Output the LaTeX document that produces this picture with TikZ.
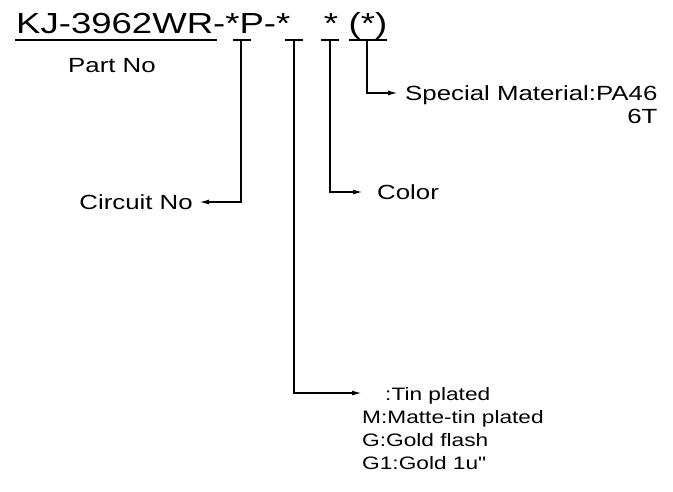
\documentclass[tikz,border=0pt]{standalone}
\usepackage{fontspec}
\setmainfont[FakeStretch=1.26]{Liberation Sans}
\newfontfamily\plainquote[FakeStretch=1.26]{Liberation Sans}
\usetikzlibrary{arrows.meta}
\begin{document}
\begin{tikzpicture}[x=1pt,y=-1pt,
  ln/.style={line width=1.6pt},
  arr/.style={ln,-{Latex[length=10pt,width=5pt]}},
  lbl/.style={inner sep=0pt,font=\fontsize{20.5}{24}\selectfont},
  opt/.style={inner sep=0pt,font=\fontsize{18}{22}\selectfont,anchor=base west},
  ttl/.style={inner sep=0pt,font=\fontsize{29}{34}\selectfont}]
\useasboundingbox (0,0) rectangle (673,491);
% title
\node[ttl,anchor=base west] (title) at (16,33) {KJ-3962WR-*P-*};
\node[ttl,anchor=base] (star3) at (331,33) {*};
\node[ttl,anchor=base] (paren) at (368,33) {(*)};
\coordinate (ulA) at (15,40);
\coordinate (ulB) at (217,40);
\draw[ln] (ulA) -- (ulB);
\node[lbl,anchor=base] (part) at (112,72) {Part No};
% bars
\coordinate (b1) at (241,40);
\coordinate (b2) at (294,40);
\coordinate (b3) at (330,40);
\coordinate (b4) at (367,40);
\draw[ln] (233,40) -- (251,40);
\draw[ln] (285,40) -- (303,40);
\draw[ln] (321,40) -- (339,40);
\draw[ln] (349,40) -- (387,40);
% labels
\node[lbl,anchor=base west] (spec) at (405,100) {Special Material:PA46};
\node[lbl,anchor=base east] (sixt) at ([yshift=-23pt]spec.base east) {6T};
\node[lbl,anchor=base west] (color) at (377,199) {Color};
\node[lbl,anchor=base east] (circ) at (193,209) {Circuit No};
\node[opt] (tin) at (385,400) {:Tin plated};
\node[opt] (matte) at (362,423) {M:Matte-tin plated};
\node[opt] (gold) at (362,446) {G:Gold flash};
\node[opt] (gold1) at (362,469) {G1:Gold 1u{\plainquote"}};
% connectors
\draw[arr] (b4) |- ([xshift=-7pt]spec.west |- 0,93);
\draw[arr] (b3) |- ([xshift=-14pt]color.west |- 0,192);
\draw[arr] (b1) |- ([xshift=6pt]circ.east |- 0,202);
\draw[arr] (b2) |- (362,393);
\end{tikzpicture}
\end{document}
